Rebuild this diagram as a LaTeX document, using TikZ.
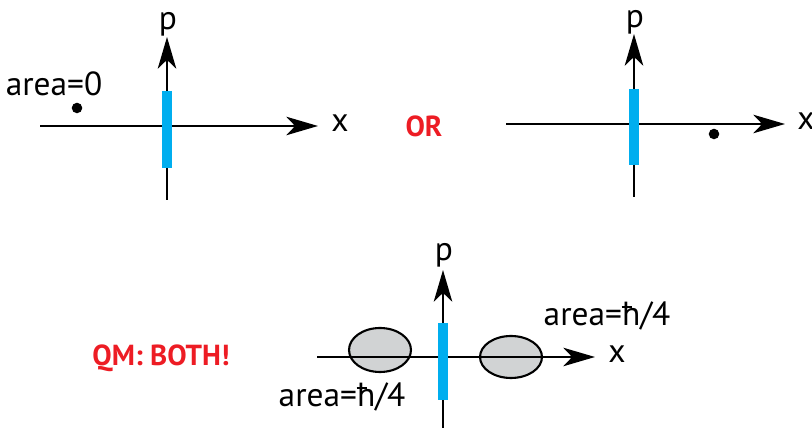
\documentclass[tikz,border=0pt]{standalone}
\usepackage{fontspec}
\setmainfont{PT Sans}
\usetikzlibrary{arrows.meta,positioning}
\definecolor{qmred}{HTML}{ED1C24}
\definecolor{barblue}{HTML}{00AEEF}
\definecolor{blobgray}{HTML}{D1D3D4}
\newcommand{\hb}{\makebox[0pt][l]{\hspace{-0.01em}\rule[0.52em]{0.3em}{0.07em}}h}
\tikzset{
  axis/.style={line width=1.4pt,-{Stealth[length=18pt,width=10.5pt,inset=5pt]}},
  wall/.style={draw=barblue,line width=5.7pt},
  blob/.style={draw=black,line width=1.2pt,fill=blobgray},
  lbl/.style={inner sep=0pt,font=\fontsize{19}{22}\selectfont},
  shout/.style={inner sep=0pt,text=qmred,font=\fontsize{16.5}{20}\selectfont\bfseries}
}

\begin{document}
\begin{tikzpicture}[x=0.02cm,y=-0.02cm]
\useasboundingbox (0,0) rectangle (812,428);

% panel 1
\coordinate (xa1) at (40,126);
\coordinate (xb1) at (318,126);
\coordinate (pa1) at (167,200);
\coordinate (pb1) at (167,37);
\draw[axis] (xa1) -- (xb1);
\draw[axis] (pa1) -- (pb1);
\draw[wall] (167,91) -- (167,168);
\fill (77,108) circle (3pt);
\node[lbl] (p1) at (168,24) {p};
\node[lbl] (x1) at (340,123) {x};
\node[lbl] (area0) at (54,84) {area=0};

% or
\node[shout] (or) at (424,126) {OR};

% panel 2
\coordinate (xa2) at (506,124);
\coordinate (xb2) at (785,124);
\coordinate (pa2) at (634,197);
\coordinate (pb2) at (634,34);
\draw[axis] (xa2) -- (xb2);
\draw[axis] (pa2) -- (pb2);
\draw[wall] (634,89) -- (634,165);
\fill (714,134) circle (3pt);
\node[lbl] (p2) at (635,22) {p};
\node[lbl] (x2) at (806,121) {x};

% panel 3
\coordinate (xa3) at (317,357);
\coordinate (xb3) at (595,357);
\coordinate (pa3) at (443,428);
\coordinate (pb3) at (443,270);
\draw[blob] (380,350) ellipse (0.62cm and 0.44cm);
\draw[blob] (511,357) ellipse (0.62cm and 0.42cm);
\draw[axis] (xa3) -- (xb3);
\draw[axis] (pa3) -- (pb3);
\draw[wall] (443,323) -- (443,400);
\node[lbl] (p3) at (444,255) {p};
\node[lbl] (x3) at (617,354) {x};
\node[lbl] (arear) at (607,316) {area=\hb/4};
\node[lbl] (areal) at (342,397) {area=\hb/4};
\node[shout] (qm) at (161,358) {QM: BOTH!};

\end{tikzpicture}
\end{document}
